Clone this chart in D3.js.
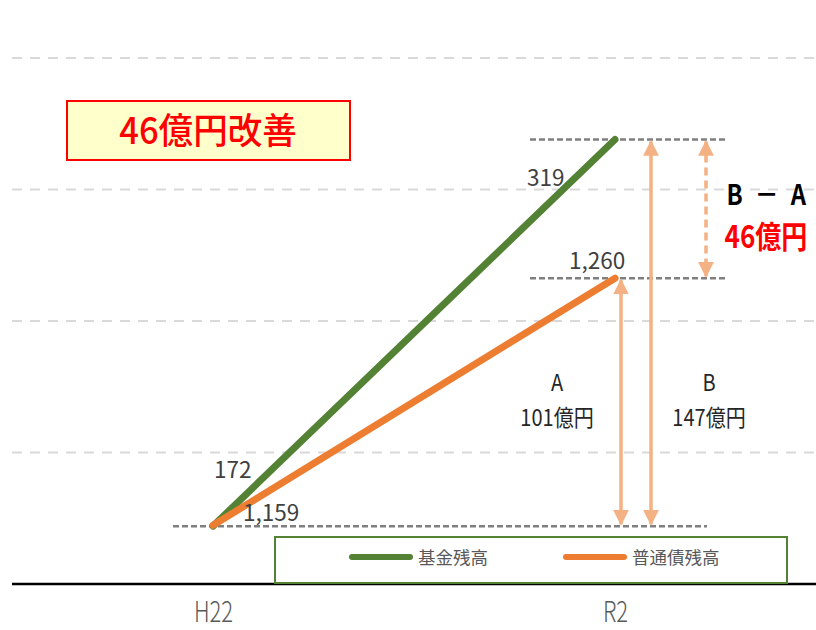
<!DOCTYPE html>
<html lang="ja">
<head>
<meta charset="UTF-8">
<title>基金残高と普通債残高</title>
<script src="https://cdn.jsdelivr.net/npm/d3@7"></script>
<style>
  body { margin: 0; background: #fff; }
  svg { display: block; }
  text { font-family: "Noto Sans CJK JP", "Noto Sans", sans-serif; }
</style>
</head>
<body>
<script>
// データ
var years = ["H22", "R2"];
var fund = [172, 319];        // 基金残高（億円）
var bond = [1159, 1260];      // 普通債残高（億円）
var fundTicks = [200, 250, 300, 350];
var seriesNames = ["基金残高", "普通債残高"];

var width = 816, height = 630;
var axisY = 584, topY = 58;

var svg = d3.select("body").append("svg").attr("width", width).attr("height", height);

var x = d3.scalePoint().domain(years).range([12, 816]).padding(0.5);
// 主軸（基金）と第2軸（普通債）、軸は非表示
var yFund = d3.scaleLinear().domain([150, 350]).range([axisY, topY]);
var yBond = d3.scaleLinear().domain([1135, 1350]).range([axisY, topY]);

// 目盛線
svg.append("g").selectAll("line").data(fundTicks).enter().append("line")
  .attr("x1", 12).attr("x2", width)
  .attr("y1", function(d){ return yFund(d); })
  .attr("y2", function(d){ return yFund(d); })
  .attr("stroke", "#d9d9d9").attr("stroke-width", 2).attr("stroke-dasharray", "10,8");

// x軸
var xAxis = d3.axisBottom(x).tickSize(0).tickPadding(17);
var gx = svg.append("g").attr("transform", "translate(0," + axisY + ")").call(xAxis);
gx.select(".domain").remove();
gx.append("line").attr("x1", 12).attr("x2", width).attr("stroke", "#000").attr("stroke-width", 2.5);
gx.selectAll(".tick text").attr("font-size", 29).attr("fill", "#595959")
  .attr("font-weight", 300).attr("font-family", "'Noto Sans', sans-serif")
  .attr("transform", "scale(0.76,1)");

var x0 = x(years[0]), x1 = x(years[1]);
var grey = "#7f7f7f", peach = "#f4b183";

// 補助線（点線）
var refs = [
  {y: yFund(fund[1]), a: x1 - 85, b: x1 + 112},
  {y: yBond(bond[1]), a: x1 - 85, b: x1 + 112},
  {y: yFund(fund[0]), a: x0 - 40, b: x1 + 92}
];
svg.append("g").selectAll("line").data(refs).enter().append("line")
  .attr("x1", function(d){ return d.a; }).attr("x2", function(d){ return d.b; })
  .attr("y1", function(d){ return d.y; }).attr("y2", function(d){ return d.y; })
  .attr("stroke", grey).attr("stroke-width", 2.5).attr("stroke-dasharray", "6,3");

// 凡例枠
var lg = svg.append("g");
lg.append("rect").attr("x", 275).attr("y", 537).attr("width", 512).attr("height", 46)
  .attr("fill", "#fff").attr("stroke", "#548235").attr("stroke-width", 2);

// 線
var colors = ["#548235", "#ed7d31"];
var line = function(vals, ys) {
  return d3.line().x(function(d, i){ return x(years[i]); }).y(function(d){ return ys(d); })(vals);
};
svg.append("path").attr("d", line(fund, yFund)).attr("fill", "none")
  .attr("stroke", colors[0]).attr("stroke-width", 7).attr("stroke-linecap", "round");
svg.append("path").attr("d", line(bond, yBond)).attr("fill", "none")
  .attr("stroke", colors[1]).attr("stroke-width", 7).attr("stroke-linecap", "round");

// データラベル
var fmt = d3.format(",");
var labels = [
  {t: fund[0], x: x0 + 1, y: yFund(fund[0]) - 48},
  {t: bond[0], x: x0 + 30, y: yBond(bond[0]) - 4},
  {t: fund[1], x: x1 - 88, y: yFund(fund[1]) + 46},
  {t: bond[1], x: x1 - 46, y: yBond(bond[1]) - 9}
];
svg.append("g").selectAll("text").data(labels).enter().append("text")
  .attr("x", function(d){ return d.x; }).attr("y", function(d){ return d.y; })
  .attr("font-size", 22.5).attr("fill", "#404040").attr("font-family", "'Noto Sans', sans-serif")
  .text(function(d){ return fmt(d.t); });

// 矢印
var defs = svg.append("defs");
defs.append("marker").attr("id", "ah").attr("viewBox", "0 0 10 10").attr("refX", 9).attr("refY", 5)
  .attr("markerWidth", 4.5).attr("markerHeight", 5).attr("orient", "auto-start-reverse")
  .attr("markerUnits", "strokeWidth")
  .append("path").attr("d", "M0,0 L10,5 L0,10 z").attr("fill", peach);

var arrows = [
  {x: x1 + 6, y1: yBond(bond[1]), y2: yFund(fund[0]), dash: null},
  {x: x1 + 36, y1: yFund(fund[1]), y2: yFund(fund[0]), dash: null},
  {x: x1 + 91, y1: yFund(fund[1]), y2: yBond(bond[1]), dash: "8,5"}
];
svg.append("g").selectAll("line").data(arrows).enter().append("line")
  .attr("x1", function(d){ return d.x; }).attr("x2", function(d){ return d.x; })
  .attr("y1", function(d){ return d.y1 + 2; }).attr("y2", function(d){ return d.y2 - 2; })
  .attr("stroke", peach).attr("stroke-width", 3.5)
  .attr("stroke-dasharray", function(d){ return d.dash; })
  .attr("marker-start", "url(#ah)").attr("marker-end", "url(#ah)");

// 注記
var diffA = bond[1] - bond[0], diffB = fund[1] - fund[0], diff = diffB - diffA;
var notes = [
  {t: "A", x: x1 - 58, y: 391},
  {t: diffA + "億円", x: x1 - 58, y: 426},
  {t: "B", x: x1 + 94, y: 391},
  {t: diffB + "億円", x: x1 + 94, y: 426}
];
svg.append("g").selectAll("text").data(notes).enter().append("text")
  .attr("x", function(d){ return d.x; }).attr("y", function(d){ return d.y; })
  .attr("text-anchor", "middle").attr("font-size", 23).attr("fill", "#262626")
  .attr("transform", function(d){ return "translate(" + d.x + ",0) scale(0.87,1) translate(" + (-d.x) + ",0)"; })
  .text(function(d){ return d.t; });

svg.append("text").attr("x", 768).attr("y", 205).attr("text-anchor", "middle")
  .attr("font-size", 28).attr("font-weight", "bold").attr("fill", "#000")
  .attr("letter-spacing", 4)
  .attr("transform", "translate(768,0) scale(0.85,1) translate(-768,0)")
  .text("B － A");
svg.append("text").attr("x", 766).attr("y", 248).attr("text-anchor", "middle")
  .attr("font-size", 31).attr("font-weight", "bold").attr("fill", "#ff0000")
  .attr("transform", "translate(766,0) scale(0.84,1) translate(-766,0)")
  .text(diff + "億円");

// タイトル枠
svg.append("rect").attr("x", 67).attr("y", 101).attr("width", 283).attr("height", 59)
  .attr("fill", "#ffffcc").attr("stroke", "#ff0000").attr("stroke-width", 2);
svg.append("text").attr("x", 208).attr("y", 144).attr("text-anchor", "middle")
  .attr("font-size", 36).attr("font-weight", 500).attr("fill", "#ff0000")
  .attr("transform", "translate(208,0) scale(0.96,1) translate(-208,0)")
  .text(diff + "億円改善");

// 凡例
var items = [{x: 352, tx: 418}, {x: 566, tx: 632}];
items.forEach(function(it, i) {
  lg.append("line").attr("x1", it.x).attr("x2", it.x + 58).attr("y1", 557).attr("y2", 557)
    .attr("stroke", colors[i]).attr("stroke-width", 6).attr("stroke-linecap", "round");
  lg.append("text").attr("x", it.tx).attr("y", 564).attr("font-size", 17.5).attr("fill", "#595959")
    .text(seriesNames[i]);
});
</script>
</body>
</html>
